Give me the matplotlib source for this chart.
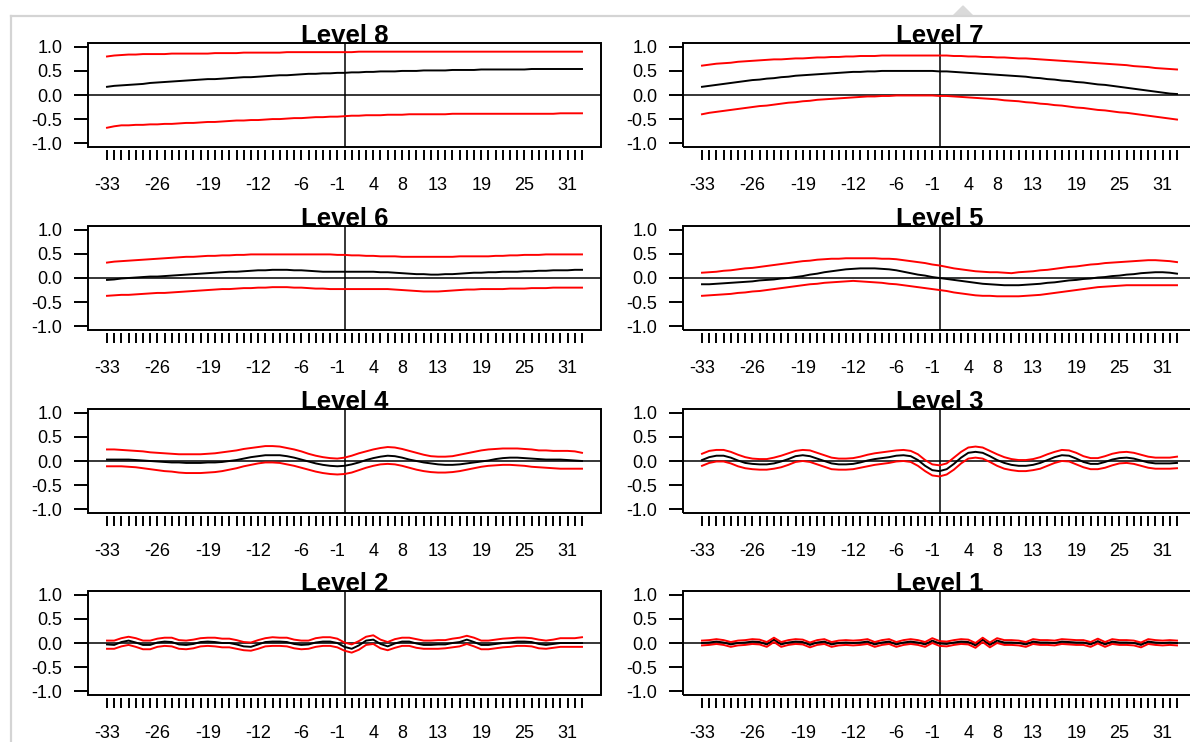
import numpy as np
import matplotlib
matplotlib.use("Agg")
import matplotlib.pyplot as plt
from matplotlib.patches import Rectangle, Polygon
from matplotlib.lines import Line2D

plt.rcParams['font.family'] = ['Liberation Sans', 'DejaVu Sans']

# lags of the cross-correlation
lags = np.arange(-33, 34)
tick_labels = [-33, -26, -19, -12, -6, -1, 4, 8, 13, 19, 25, 31]
levels = ["Level 8", "Level 7", "Level 6", "Level 5",
          "Level 4", "Level 3", "Level 2", "Level 1"]

# values, one per lag (-33 .. 33)
l8_mid = [0.17, 0.19, 0.20, 0.21, 0.22, 0.23, 0.25, 0.26, 0.27, 0.28, 0.29,
          0.30, 0.31, 0.32, 0.33, 0.33, 0.34, 0.35, 0.36, 0.37, 0.37, 0.38,
          0.39, 0.40, 0.41, 0.41, 0.42, 0.43, 0.44, 0.44, 0.45, 0.45, 0.46,
          0.46, 0.47, 0.47, 0.48, 0.48, 0.49, 0.49, 0.49, 0.50, 0.50, 0.50,
          0.51, 0.51, 0.51, 0.51, 0.52, 0.52, 0.52, 0.52, 0.53, 0.53, 0.53,
          0.53, 0.53, 0.53, 0.53, 0.54, 0.54, 0.54, 0.54, 0.54, 0.54, 0.54, 0.54]
l8_up = [0.80, 0.82, 0.83, 0.84, 0.84, 0.85, 0.85, 0.85, 0.85, 0.86, 0.86,
         0.86, 0.86, 0.86, 0.86, 0.87, 0.87, 0.87, 0.87, 0.88, 0.88, 0.88,
         0.88, 0.88, 0.88, 0.89, 0.89, 0.89, 0.89, 0.89, 0.89, 0.89, 0.89,
         0.89, 0.89, 0.90, 0.90, 0.90, 0.90, 0.90, 0.90, 0.90, 0.90, 0.90,
         0.90, 0.90, 0.90, 0.90, 0.90, 0.90, 0.90, 0.90, 0.90, 0.90, 0.90,
         0.90, 0.90, 0.90, 0.90, 0.90, 0.90, 0.90, 0.90, 0.90, 0.90, 0.90, 0.90]
l8_lo = [-0.68, -0.65, -0.63, -0.63, -0.62, -0.62, -0.61, -0.61, -0.60, -0.60, -0.59,
         -0.58, -0.58, -0.57, -0.56, -0.56, -0.55, -0.54, -0.53, -0.53, -0.52, -0.52,
         -0.51, -0.50, -0.50, -0.49, -0.48, -0.48, -0.47, -0.46, -0.46, -0.45, -0.45,
         -0.44, -0.43, -0.43, -0.42, -0.42, -0.42, -0.41, -0.41, -0.41, -0.40, -0.40,
         -0.40, -0.40, -0.40, -0.40, -0.39, -0.39, -0.39, -0.39, -0.39, -0.39, -0.39,
         -0.39, -0.39, -0.39, -0.39, -0.39, -0.39, -0.39, -0.39, -0.38, -0.38, -0.38, -0.38]

l7_mid = [0.17, 0.19, 0.21, 0.23, 0.25, 0.27, 0.29, 0.31, 0.32, 0.34, 0.35,
          0.37, 0.38, 0.40, 0.41, 0.42, 0.43, 0.44, 0.45, 0.46, 0.47, 0.48,
          0.48, 0.49, 0.49, 0.50, 0.50, 0.50, 0.50, 0.50, 0.50, 0.50, 0.50,
          0.49, 0.49, 0.48, 0.47, 0.46, 0.45, 0.44, 0.43, 0.42, 0.41, 0.40,
          0.39, 0.38, 0.36, 0.35, 0.33, 0.32, 0.30, 0.29, 0.27, 0.26, 0.24,
          0.22, 0.21, 0.19, 0.17, 0.15, 0.13, 0.11, 0.09, 0.07, 0.05, 0.03, 0.02]
l7_up = [0.61, 0.63, 0.65, 0.66, 0.67, 0.69, 0.70, 0.71, 0.72, 0.73, 0.74,
         0.74, 0.75, 0.76, 0.76, 0.77, 0.78, 0.78, 0.79, 0.79, 0.80, 0.80,
         0.81, 0.81, 0.81, 0.82, 0.82, 0.82, 0.82, 0.82, 0.82, 0.82, 0.82,
         0.82, 0.82, 0.81, 0.81, 0.80, 0.80, 0.79, 0.79, 0.78, 0.78, 0.77,
         0.76, 0.76, 0.75, 0.74, 0.73, 0.72, 0.71, 0.70, 0.69, 0.68, 0.67,
         0.66, 0.65, 0.64, 0.63, 0.62, 0.60, 0.59, 0.58, 0.56, 0.55, 0.54, 0.53]
l7_lo = [-0.40, -0.37, -0.35, -0.33, -0.31, -0.29, -0.27, -0.25, -0.23, -0.22, -0.20,
         -0.18, -0.16, -0.15, -0.13, -0.12, -0.10, -0.09, -0.08, -0.07, -0.06, -0.05,
         -0.04, -0.03, -0.03, -0.02, -0.02, -0.01, -0.01, -0.01, -0.01, -0.01, -0.01,
         -0.02, -0.02, -0.03, -0.04, -0.05, -0.06, -0.07, -0.08, -0.09, -0.11, -0.12,
         -0.13, -0.15, -0.16, -0.18, -0.19, -0.21, -0.22, -0.24, -0.26, -0.27, -0.29,
         -0.31, -0.32, -0.34, -0.36, -0.37, -0.39, -0.41, -0.43, -0.45, -0.47, -0.49, -0.51]

l6_mid = [-0.04, -0.03, -0.01, 0.00, 0.01, 0.02, 0.03, 0.03, 0.04, 0.05, 0.06,
          0.07, 0.08, 0.09, 0.10, 0.11, 0.12, 0.13, 0.13, 0.14, 0.15, 0.16,
          0.16, 0.17, 0.17, 0.17, 0.16, 0.16, 0.15, 0.14, 0.13, 0.13, 0.13,
          0.13, 0.13, 0.13, 0.13, 0.13, 0.12, 0.12, 0.11, 0.10, 0.09, 0.08,
          0.08, 0.07, 0.07, 0.08, 0.08, 0.09, 0.10, 0.11, 0.11, 0.12, 0.12,
          0.13, 0.13, 0.13, 0.14, 0.14, 0.15, 0.15, 0.16, 0.16, 0.16, 0.17, 0.17]
l6_up = [0.32, 0.34, 0.35, 0.36, 0.37, 0.38, 0.39, 0.40, 0.41, 0.42, 0.43,
         0.44, 0.44, 0.45, 0.46, 0.46, 0.47, 0.47, 0.48, 0.48, 0.49, 0.49,
         0.49, 0.49, 0.49, 0.49, 0.49, 0.49, 0.49, 0.49, 0.49, 0.49, 0.48,
         0.48, 0.47, 0.47, 0.46, 0.46, 0.45, 0.45, 0.45, 0.44, 0.44, 0.44,
         0.44, 0.44, 0.44, 0.44, 0.44, 0.45, 0.45, 0.45, 0.45, 0.45, 0.46,
         0.46, 0.47, 0.47, 0.48, 0.48, 0.48, 0.49, 0.49, 0.49, 0.49, 0.49, 0.49]
l6_lo = [-0.37, -0.36, -0.35, -0.35, -0.34, -0.33, -0.32, -0.31, -0.31, -0.30, -0.29,
         -0.28, -0.27, -0.26, -0.25, -0.24, -0.23, -0.23, -0.22, -0.21, -0.21, -0.20,
         -0.20, -0.19, -0.19, -0.19, -0.20, -0.20, -0.21, -0.22, -0.22, -0.23, -0.23,
         -0.23, -0.23, -0.23, -0.23, -0.23, -0.23, -0.23, -0.24, -0.25, -0.26, -0.27,
         -0.28, -0.28, -0.28, -0.27, -0.26, -0.25, -0.24, -0.24, -0.23, -0.23, -0.23,
         -0.23, -0.22, -0.22, -0.22, -0.21, -0.21, -0.21, -0.20, -0.20, -0.20, -0.20, -0.20]

l5_mid = [-0.13, -0.13, -0.12, -0.11, -0.10, -0.09, -0.08, -0.07, -0.05, -0.04, -0.03,
          -0.01, 0.00, 0.02, 0.04, 0.07, 0.09, 0.12, 0.14, 0.16, 0.18, 0.19,
          0.20, 0.20, 0.20, 0.19, 0.18, 0.16, 0.13, 0.10, 0.07, 0.05, 0.02,
          0.00, -0.02, -0.04, -0.06, -0.08, -0.10, -0.12, -0.13, -0.14, -0.15, -0.15,
          -0.15, -0.14, -0.13, -0.12, -0.10, -0.09, -0.07, -0.05, -0.04, -0.02, -0.01,
          0.01, 0.02, 0.04, 0.05, 0.07, 0.08, 0.10, 0.11, 0.12, 0.12, 0.11, 0.09]
l5_up = [0.11, 0.12, 0.13, 0.15, 0.16, 0.18, 0.20, 0.21, 0.23, 0.25, 0.27,
         0.29, 0.31, 0.33, 0.35, 0.36, 0.38, 0.39, 0.40, 0.40, 0.41, 0.41,
         0.41, 0.41, 0.41, 0.40, 0.40, 0.39, 0.37, 0.35, 0.33, 0.31, 0.28,
         0.26, 0.23, 0.20, 0.18, 0.16, 0.14, 0.13, 0.12, 0.12, 0.11, 0.10,
         0.12, 0.13, 0.14, 0.16, 0.17, 0.19, 0.21, 0.23, 0.24, 0.26, 0.28,
         0.29, 0.31, 0.32, 0.33, 0.34, 0.35, 0.36, 0.37, 0.37, 0.36, 0.35, 0.33]
l5_lo = [-0.37, -0.36, -0.35, -0.34, -0.33, -0.31, -0.30, -0.28, -0.27, -0.25, -0.23,
         -0.21, -0.19, -0.17, -0.15, -0.13, -0.12, -0.10, -0.09, -0.08, -0.07, -0.06,
         -0.07, -0.08, -0.09, -0.10, -0.12, -0.13, -0.15, -0.17, -0.19, -0.21, -0.23,
         -0.25, -0.27, -0.30, -0.32, -0.34, -0.36, -0.37, -0.37, -0.38, -0.38, -0.38,
         -0.38, -0.37, -0.36, -0.35, -0.33, -0.31, -0.29, -0.27, -0.25, -0.23, -0.21,
         -0.19, -0.18, -0.17, -0.16, -0.15, -0.15, -0.15, -0.15, -0.15, -0.15, -0.15, -0.15]

l4_mid = [0.03, 0.03, 0.03, 0.03, 0.02, 0.01, 0.00, -0.01, -0.02, -0.03, -0.03,
          -0.04, -0.04, -0.04, -0.03, -0.03, -0.02, 0.00, 0.02, 0.05, 0.08, 0.10,
          0.12, 0.12, 0.12, 0.10, 0.07, 0.03, -0.01, -0.05, -0.08, -0.10, -0.11,
          -0.10, -0.07, -0.03, 0.02, 0.06, 0.09, 0.11, 0.10, 0.07, 0.03, 0.00,
          -0.03, -0.05, -0.07, -0.08, -0.08, -0.07, -0.05, -0.03, -0.01, 0.01, 0.04,
          0.06, 0.07, 0.07, 0.06, 0.05, 0.04, 0.03, 0.03, 0.03, 0.02, 0.01, 0.00]
l4_up = [0.24, 0.24, 0.23, 0.22, 0.21, 0.20, 0.18, 0.17, 0.16, 0.15, 0.14,
         0.14, 0.14, 0.14, 0.15, 0.16, 0.18, 0.20, 0.22, 0.25, 0.27, 0.29,
         0.31, 0.31, 0.30, 0.27, 0.24, 0.20, 0.15, 0.11, 0.08, 0.06, 0.05,
         0.07, 0.11, 0.16, 0.20, 0.24, 0.27, 0.29, 0.28, 0.25, 0.21, 0.17,
         0.13, 0.10, 0.09, 0.09, 0.10, 0.13, 0.16, 0.19, 0.22, 0.24, 0.25,
         0.26, 0.26, 0.26, 0.25, 0.24, 0.22, 0.22, 0.21, 0.21, 0.21, 0.20, 0.17]
l4_lo = [-0.11, -0.11, -0.11, -0.12, -0.13, -0.15, -0.17, -0.19, -0.21, -0.22, -0.24,
         -0.25, -0.25, -0.25, -0.24, -0.23, -0.21, -0.18, -0.15, -0.11, -0.08, -0.05,
         -0.03, -0.03, -0.04, -0.07, -0.10, -0.14, -0.18, -0.22, -0.25, -0.27, -0.28,
         -0.27, -0.24, -0.19, -0.14, -0.10, -0.07, -0.06, -0.07, -0.10, -0.14, -0.18,
         -0.21, -0.23, -0.24, -0.24, -0.23, -0.21, -0.18, -0.15, -0.12, -0.10, -0.09,
         -0.08, -0.08, -0.09, -0.10, -0.12, -0.13, -0.14, -0.15, -0.16, -0.16, -0.16, -0.16]

l3_mid = [0.02, 0.08, 0.11, 0.11, 0.07, 0.01, -0.04, -0.06, -0.07, -0.07, -0.05,
          -0.01, 0.04, 0.10, 0.12, 0.10, 0.05, 0.00, -0.05, -0.07, -0.07, -0.06,
          -0.03, 0.01, 0.04, 0.06, 0.08, 0.11, 0.12, 0.10, 0.02, -0.10, -0.19,
          -0.21, -0.17, -0.06, 0.07, 0.17, 0.19, 0.17, 0.10, 0.02, -0.04, -0.08,
          -0.10, -0.10, -0.08, -0.04, 0.02, 0.08, 0.12, 0.11, 0.05, -0.02, -0.06,
          -0.06, -0.02, 0.03, 0.06, 0.07, 0.05, 0.01, -0.03, -0.05, -0.05, -0.05, -0.04]
l3_up = [0.15, 0.21, 0.23, 0.23, 0.19, 0.13, 0.08, 0.05, 0.04, 0.04, 0.07,
         0.11, 0.16, 0.21, 0.23, 0.22, 0.17, 0.12, 0.07, 0.05, 0.05, 0.06,
         0.09, 0.13, 0.16, 0.18, 0.20, 0.22, 0.23, 0.21, 0.14, 0.02, -0.07,
         -0.09, -0.05, 0.07, 0.19, 0.28, 0.30, 0.28, 0.21, 0.14, 0.08, 0.04,
         0.02, 0.02, 0.04, 0.08, 0.14, 0.19, 0.23, 0.22, 0.17, 0.10, 0.06,
         0.06, 0.10, 0.15, 0.18, 0.19, 0.17, 0.13, 0.09, 0.07, 0.07, 0.07, 0.09]
l3_lo = [-0.10, -0.04, -0.01, -0.01, -0.05, -0.11, -0.15, -0.17, -0.18, -0.18, -0.16,
         -0.13, -0.08, -0.02, 0.00, -0.02, -0.07, -0.12, -0.17, -0.18, -0.18, -0.17,
         -0.14, -0.11, -0.08, -0.06, -0.04, -0.01, 0.00, -0.02, -0.10, -0.21, -0.30,
         -0.32, -0.28, -0.18, -0.05, 0.05, 0.07, 0.05, -0.02, -0.10, -0.16, -0.19,
         -0.21, -0.21, -0.19, -0.16, -0.10, -0.04, 0.00, -0.01, -0.07, -0.13, -0.17,
         -0.17, -0.14, -0.09, -0.05, -0.04, -0.06, -0.10, -0.14, -0.16, -0.16, -0.16, -0.15]

l2_mid = [-0.03, -0.04, 0.02, 0.05, 0.01, -0.04, -0.04, 0.01, 0.03, 0.02, -0.03,
          -0.04, -0.02, 0.02, 0.03, 0.02, 0.00, 0.00, -0.03, -0.07, -0.08, -0.03,
          0.02, 0.03, 0.03, 0.02, -0.02, -0.04, -0.03, 0.01, 0.03, 0.03, 0.00,
          -0.08, -0.12, -0.05, 0.05, 0.07, -0.02, -0.07, -0.01, 0.03, 0.03, -0.01,
          -0.04, -0.04, -0.03, -0.03, 0.00, 0.02, 0.07, 0.02, -0.04, -0.04, -0.02,
          0.00, 0.01, 0.03, 0.03, 0.02, -0.02, -0.04, -0.02, 0.00, 0.00, 0.00, 0.00]
l2_up = [0.05, 0.05, 0.10, 0.13, 0.10, 0.05, 0.05, 0.09, 0.11, 0.11, 0.06,
         0.05, 0.07, 0.10, 0.11, 0.11, 0.09, 0.09, 0.06, 0.02, 0.01, 0.06,
         0.10, 0.12, 0.11, 0.11, 0.07, 0.05, 0.05, 0.10, 0.12, 0.12, 0.09,
         0.01, -0.03, 0.04, 0.13, 0.16, 0.07, 0.02, 0.08, 0.11, 0.11, 0.08,
         0.05, 0.05, 0.06, 0.06, 0.09, 0.11, 0.15, 0.11, 0.05, 0.05, 0.07,
         0.09, 0.10, 0.11, 0.11, 0.10, 0.07, 0.05, 0.07, 0.10, 0.10, 0.10, 0.12]
l2_lo = [-0.12, -0.12, -0.07, -0.04, -0.08, -0.13, -0.13, -0.08, -0.06, -0.07, -0.12,
         -0.13, -0.11, -0.07, -0.06, -0.07, -0.09, -0.09, -0.12, -0.15, -0.16, -0.12,
         -0.07, -0.06, -0.06, -0.07, -0.11, -0.13, -0.12, -0.08, -0.06, -0.06, -0.09,
         -0.16, -0.20, -0.14, -0.04, -0.02, -0.11, -0.15, -0.10, -0.06, -0.06, -0.10,
         -0.12, -0.12, -0.12, -0.11, -0.09, -0.07, -0.02, -0.07, -0.13, -0.13, -0.11,
         -0.09, -0.08, -0.06, -0.06, -0.07, -0.11, -0.12, -0.10, -0.08, -0.08, -0.08, -0.08]

l1_mid = [0.00, 0.01, 0.03, 0.01, -0.03, 0.00, 0.01, 0.03, 0.02, -0.03, 0.07,
          -0.03, 0.01, 0.03, 0.02, -0.04, 0.01, 0.03, -0.03, 0.00, 0.01, 0.00,
          0.01, 0.03, -0.03, 0.01, 0.03, -0.03, 0.01, 0.03, 0.01, -0.03, 0.05,
          -0.01, -0.02, 0.01, 0.03, 0.02, -0.05, 0.07, -0.04, 0.05, 0.01, 0.01,
          0.00, -0.03, 0.03, 0.01, 0.01, 0.00, 0.03, 0.02, 0.01, 0.01, -0.03,
          0.04, -0.03, 0.03, 0.01, 0.01, 0.00, -0.04, 0.03, 0.01, 0.00, 0.01, 0.00]
l1_up = [0.05, 0.06, 0.08, 0.06, 0.02, 0.05, 0.06, 0.08, 0.07, 0.02, 0.11,
         0.02, 0.06, 0.08, 0.07, 0.01, 0.06, 0.08, 0.02, 0.05, 0.06, 0.05,
         0.06, 0.08, 0.02, 0.06, 0.08, 0.02, 0.06, 0.08, 0.06, 0.02, 0.10,
         0.04, 0.03, 0.06, 0.08, 0.07, 0.00, 0.11, 0.01, 0.10, 0.06, 0.06,
         0.05, 0.02, 0.08, 0.06, 0.06, 0.05, 0.08, 0.07, 0.06, 0.06, 0.02,
         0.09, 0.02, 0.08, 0.06, 0.06, 0.05, 0.01, 0.08, 0.06, 0.05, 0.06, 0.05]
l1_lo = [-0.05, -0.04, -0.02, -0.04, -0.08, -0.05, -0.04, -0.02, -0.03, -0.08, 0.02,
         -0.08, -0.04, -0.02, -0.03, -0.09, -0.04, -0.02, -0.08, -0.05, -0.04, -0.05,
         -0.04, -0.02, -0.08, -0.04, -0.02, -0.08, -0.04, -0.02, -0.04, -0.08, 0.00,
         -0.06, -0.07, -0.04, -0.02, -0.03, -0.10, 0.02, -0.09, 0.00, -0.04, -0.04,
         -0.05, -0.08, -0.02, -0.04, -0.04, -0.05, -0.02, -0.03, -0.04, -0.04, -0.08,
         -0.01, -0.08, -0.02, -0.04, -0.04, -0.05, -0.09, -0.02, -0.04, -0.05, -0.04, -0.05]

panels = [(l8_mid, l8_up, l8_lo), (l7_mid, l7_up, l7_lo),
          (l6_mid, l6_up, l6_lo), (l5_mid, l5_up, l5_lo),
          (l4_mid, l4_up, l4_lo), (l3_mid, l3_up, l3_lo),
          (l2_mid, l2_up, l2_lo), (l1_mid, l1_up, l1_lo)]

W, H = 1190, 742
fig = plt.figure(figsize=(W / 100, H / 100), dpi=100)

# screenshot frame (light grey border and little arrow at top)
grey = '#d4d4d4'
fig.add_artist(Line2D([11 / W, 11 / W], [0, 1 - 16 / H], color=grey, lw=1.6,
                      transform=fig.transFigure))
fig.add_artist(Line2D([11 / W, 1], [1 - 16 / H, 1 - 16 / H], color=grey, lw=1.6,
                      transform=fig.transFigure))
fig.add_artist(Polygon([[953 / W, 1 - 16 / H], [973 / W, 1 - 16 / H], [963 / W, 1 - 6 / H]],
                       closed=True, color='#dadada', transform=fig.transFigure))

box_w, box_h = 513, 104
lefts = [88, 683]
tops = [43, 226, 409, 591]
xticklab = [str(v) if v in tick_labels else '' for v in lags]

for i, (title, (mid, up, lo)) in enumerate(zip(levels, panels)):
    assert len(mid) == len(up) == len(lo) == len(lags), title
    r, c = divmod(i, 2)
    ax = fig.add_axes([lefts[c] / W, 1 - (tops[r] + box_h) / H, box_w / W, box_h / H])
    ax.set_xlim(-35.64, 35.64)
    ax.set_ylim(-1.08, 1.08)

    ax.axhline(0, color='black', lw=1.1, zorder=1)
    ax.axvline(0, color='black', lw=1.1, zorder=1)
    ax.plot(lags, mid, color='black', lw=1.4, zorder=2)
    ax.plot(lags, up, color='#ff0000', lw=1.4, zorder=3)
    ax.plot(lags, lo, color='#ff0000', lw=1.4, zorder=3)

    for s in ax.spines.values():
        s.set_visible(False)
    ax.spines['bottom'].set_position(('outward', 2.2))
    ax.add_patch(Rectangle((0, 0), 1, 1, transform=ax.transAxes, fill=False,
                           ec='black', lw=1.4, clip_on=False, zorder=5))

    ax.set_xticks(lags)
    ax.set_xticklabels(xticklab)
    ax.set_yticks([-1.0, -0.5, 0.0, 0.5, 1.0])
    ax.set_yticklabels(['-1.0', '-0.5', '0.0', '0.5', '1.0'])
    ax.tick_params(axis='x', length=7.5, width=1.4, pad=12, labelsize=13)
    ax.tick_params(axis='y', length=10, width=1.4, pad=8.5, labelsize=13)

    ax.text(0.5, 1.0, title, transform=ax.transAxes, ha='center', va='baseline',
            fontsize=18.5, fontweight='bold', zorder=6)

fig.savefig('out.png', dpi=100)
